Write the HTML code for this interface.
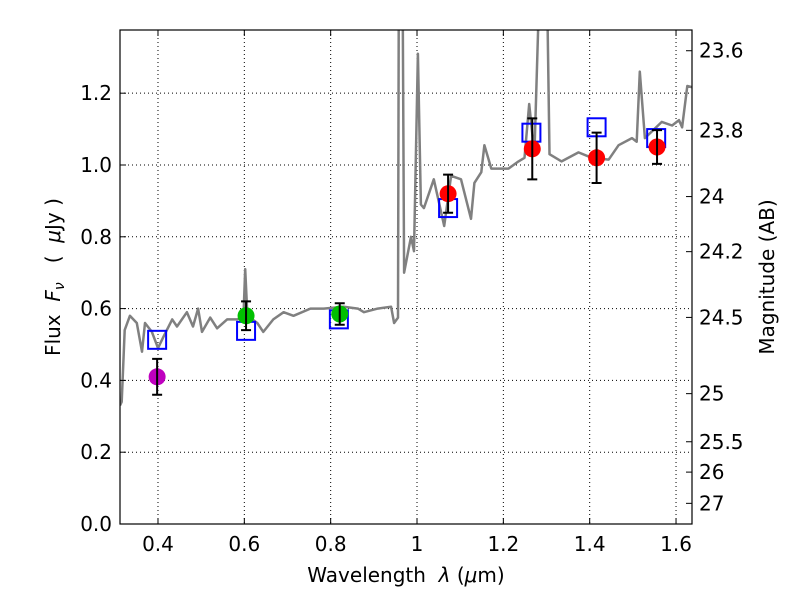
<!DOCTYPE html>
<html><head><meta charset="utf-8"><style>
body{margin:0;background:#fff;font-family:"Liberation Sans","DejaVu Sans",sans-serif}
svg text{font-family:"DejaVu Sans","Liberation Sans",sans-serif;fill:#000}
</style></head><body>
<svg id="chart" width="800" height="600" viewBox="0 0 800 600" xmlns="http://www.w3.org/2000/svg">
<rect width="800" height="600" fill="#fff"/>
<g id="grid"></g><g id="plot"></g><g id="axes"></g>
</svg>
<script>
const specWave=[0.312,0.316,0.323,0.335,0.351,0.363,0.370,0.386,0.400,0.412,0.433,0.444,0.467,0.481,0.493,0.502,0.521,0.537,0.560,0.584,0.598,0.602,0.607,0.630,0.644,0.667,0.691,0.714,0.753,0.784,0.830,0.863,0.877,0.909,0.940,0.947,0.956,0.958,0.963,0.967,0.970,0.986,0.993,1.002,1.009,1.016,1.039,1.063,1.079,1.102,1.125,1.133,1.149,1.156,1.172,1.212,1.235,1.249,1.260,1.272,1.286,1.290,1.300,1.307,1.335,1.374,1.405,1.444,1.467,1.498,1.509,1.516,1.528,1.567,1.591,1.607,1.614,1.626,1.642];
const specFlux=[0.33,0.34,0.54,0.58,0.56,0.48,0.56,0.535,0.49,0.52,0.57,0.55,0.59,0.55,0.60,0.535,0.575,0.545,0.57,0.57,0.58,0.71,0.58,0.56,0.535,0.57,0.59,0.58,0.60,0.60,0.605,0.60,0.59,0.60,0.605,0.56,0.575,1.6,1.6,1.4,0.70,0.80,0.76,1.31,0.89,0.88,0.96,0.83,0.97,0.96,0.85,0.95,0.98,1.055,0.99,0.99,1.01,1.02,1.17,1.03,1.6,1.6,1.6,1.03,1.01,1.035,1.02,1.015,1.055,1.075,1.065,1.26,1.075,1.12,1.11,1.125,1.105,1.22,1.215];
const magWave=[0.398];const magFlux=[0.41];const magErr=[0.05];
const greenWave=[0.604,0.821];const greenFlux=[0.58,0.585];const greenErr=[0.04,0.03];
const redWave=[1.072,1.267,1.416,1.556];const redFlux=[0.92,1.045,1.02,1.05];const redErr=[0.053,0.085,0.07,0.047];
const sqWave=[0.398,0.604,0.819,1.072,1.265,1.416,1.554];const sqFlux=[0.513,0.538,0.57,0.88,1.09,1.105,1.075];
const xTicks=[0.4,0.6,0.8,1.0,1.2,1.4,1.6];const xTickLabels=["0.4","0.6","0.8","1","1.2","1.4","1.6"];
const yTicks=[0,0.2,0.4,0.6,0.8,1.0,1.2];const yTickLabels=["0.0","0.2","0.4","0.6","0.8","1.0","1.2"];
const magTicks=[23.6,23.8,24,24.2,24.5,25,25.5,26,27];const magTickLabels=["23.6","23.8","24","24.2","24.5","25","25.5","26","27"];

const L=120,R=692,T=30,B=524,X0=0.312,X1=1.637,Y0=0,Y1=1.376;
const sx=v=>L+(v-X0)/(X1-X0)*(R-L);
const sy=v=>B-(v-Y0)/(Y1-Y0)*(B-T);
const NS="http://www.w3.org/2000/svg";
function mk(parent,tag,attrs){const e=document.createElementNS(NS,tag);for(const k in attrs)e.setAttribute(k,attrs[k]);document.getElementById(parent).appendChild(e);return e;}
const defs=document.createElementNS(NS,'defs');defs.innerHTML='<clipPath id="cp"><rect x="'+L+'" y="'+T+'" width="'+(R-L)+'" height="'+(B-T)+'"/></clipPath>';document.getElementById('chart').prepend(defs);
document.getElementById('plot').setAttribute('clip-path','url(#cp)');
xTicks.forEach((v,i)=>{const g=mk('grid','line',{x1:sx(v),x2:sx(v),y1:T,y2:B,stroke:'#000','stroke-width':1,'stroke-dasharray':'1,3'});
});
yTicks.forEach((v,i)=>{const g=mk('grid','line',{x1:L,x2:R,y1:sy(v),y2:sy(v),stroke:'#000','stroke-width':1,'stroke-dasharray':'1,3'});
});
let d=specWave.map((w,i)=>(i?'L':'M')+sx(w).toFixed(1)+','+sy(specFlux[i]).toFixed(1)).join('');
const sp=mk('plot','path',{d:d,fill:'none',stroke:'#808080','stroke-width':2.5,'stroke-linejoin':'round'});

sqWave.forEach((w,i)=>{const s=mk('plot','rect',{x:sx(w)-9,y:sy(sqFlux[i])-9,width:18,height:18,fill:'none',stroke:'#0000ff','stroke-width':2});
});
function pts(ws,fs,es,color,name){ws.forEach((w,i)=>{const x=sx(w);
const c=mk('plot','circle',{cx:x,cy:sy(fs[i]),r:8.5,fill:color});

const y1=sy(fs[i]+es[i]),y2=sy(fs[i]-es[i]);
const e=mk('plot','path',{d:`M${x},${y1}L${x},${y2}M${x-5},${y1}L${x+5},${y1}M${x-5},${y2}L${x+5},${y2}`,stroke:'#000','stroke-width':2,fill:'none'});
});}
pts(magWave,magFlux,magErr,'#bf00bf','magenta-point');
pts(greenWave,greenFlux,greenErr,'#00c000','green-point');
pts(redWave,redFlux,redErr,'#ff0000','red-point');
const fr=mk('axes','rect',{x:L,y:T,width:R-L,height:B-T,fill:'none',stroke:'#000','stroke-width':1.2});

xTicks.forEach((v,i)=>{const x=sx(v);
mk('axes','path',{d:`M${x},${B}L${x},${B-6}M${x},${T}L${x},${T+6}`,stroke:'#000'});
const t=mk('axes','text',{x:x,y:B+27,'text-anchor':'middle','font-size':20});t.textContent=xTickLabels[i];
});
yTicks.forEach((v,i)=>{const y=sy(v);
mk('axes','path',{d:`M${L},${y}L${L+6},${y}`,stroke:'#000'});
const t=mk('axes','text',{x:L-8,y:y+7,'text-anchor':'end','font-size':20});t.textContent=yTickLabels[i];
});
magTicks.forEach((m,i)=>{const y=sy(Math.pow(10,(23.9-m)/2.5));
mk('axes','path',{d:`M${R},${y}L${R-6},${y}`,stroke:'#000'});
const t=mk('axes','text',{x:R+7,y:y+7,'font-size':20});t.textContent=magTickLabels[i];
});
</script>
<svg style="position:absolute;left:0;top:0" width="800" height="600">
<text x="406" y="582" text-anchor="middle" font-size="20" xml:space="preserve">Wavelength  <tspan font-style="italic">λ</tspan> (<tspan font-style="italic">μ</tspan>m)</text>
<text transform="translate(60,277) rotate(-90)" text-anchor="middle" font-size="20" xml:space="preserve">Flux  <tspan font-style="italic">F</tspan><tspan font-style="italic" font-size="14" dy="4">ν</tspan><tspan dy="-4">   (  </tspan><tspan font-style="italic">μ</tspan>Jy )</text>
<text transform="translate(774,277) rotate(-90)" text-anchor="middle" font-size="20">Magnitude (AB)</text>
</svg>
</body></html>
